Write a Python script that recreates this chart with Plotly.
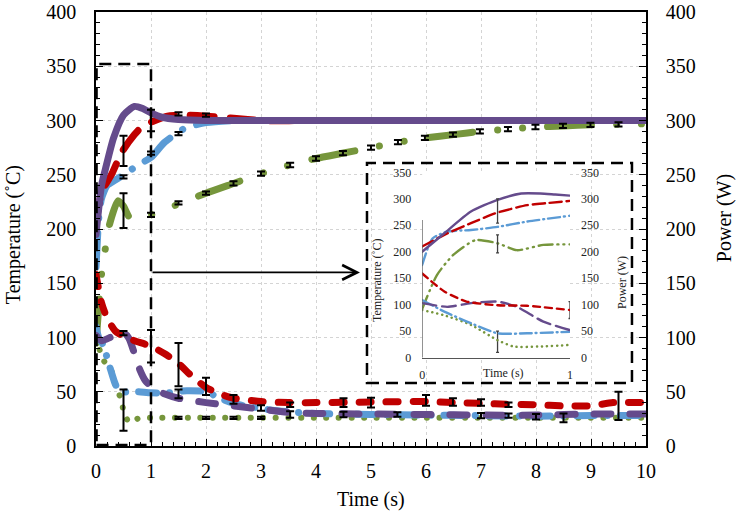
import plotly.graph_objects as go

# ---------------- main plot data (0-10 s) ----------------
# Temperatures (°C)
t_purple_T = [0, 0.1, 0.17, 0.32, 0.5, 0.7, 0.85, 1.0, 1.2, 1.5, 2, 3, 4, 5, 6, 7, 8, 9, 10]
v_purple_T = [195, 240, 255, 284, 305, 313, 311, 307, 303, 301, 300, 300, 300, 300, 300, 300, 300, 300, 300]
t_red_T = [0, 0.1, 0.29, 0.47, 0.7, 0.85, 1.03, 1.3, 1.6, 2.0, 2.5, 3, 4, 5, 6, 7, 8, 9, 10]
v_red_T = [205, 234, 251, 271, 287, 295, 299, 304, 305, 304, 302, 300, 300, 300, 300, 300, 300, 300, 300]
t_blue_T = [0, 0.05, 0.1, 0.2, 0.35, 0.56, 0.8, 1.0, 1.25, 1.62, 2.0, 2.5, 3, 4, 5, 6, 7, 8, 9, 10]
v_blue_T = [165, 210, 228, 240, 245, 252, 260, 266, 280, 293, 298, 300, 300, 300, 300, 300, 300, 300, 300, 300]
t_green_T = [0, 0.1, 0.17, 0.25, 0.4, 0.5, 0.62, 0.8, 1.0, 1.5, 2.0, 2.5, 3.0, 3.53, 4.0, 4.5, 5.0, 5.5,
             6.0, 6.5, 7.0, 7.5, 8.0, 8.5, 9.0, 9.5, 10]
v_green_T = [95, 158, 182, 205, 226, 221, 210, 211, 213, 223, 233, 242, 251, 259, 265, 270, 275, 280,
             284, 287, 290, 292, 294, 295, 296, 296.5, 297]

# Powers (W)
t_red_P = [0, 0.1, 0.2, 0.35, 0.5, 0.7, 1.0, 1.25, 1.5, 1.75, 2.0, 2.25, 2.5, 3.0, 3.5, 4, 5, 6, 6.5,
           7, 7.5, 8, 8.5, 9, 9.4, 10]
v_red_P = [158, 132, 118, 106, 101, 97, 92, 85, 76, 64, 54, 48, 44, 41, 40, 40, 40.5, 41, 40,
           39.3, 38.5, 38, 37, 37, 40, 40]
t_purple_P = [0, 0.1, 0.3, 0.5, 0.6, 0.7, 0.8, 0.9, 1.0, 1.2, 1.5, 2.0, 2.5, 3.0, 3.5, 4, 5, 6, 7, 8, 9, 10]
v_purple_P = [102, 97, 101, 105, 99, 85, 70, 60, 55, 49, 44, 40, 37, 34, 31, 30, 29.5, 29, 28.5, 28.5, 29.5, 29.5]
t_blue_P = [0, 0.05, 0.13, 0.25, 0.33, 0.4, 0.5, 0.75, 1.0, 1.3, 1.65, 2.0, 2.3, 2.6, 2.85, 3.2, 3.65,
            4, 5, 6, 7, 8, 9, 10]
v_blue_P = [110, 100, 93, 73, 60, 52, 50, 50, 49, 49, 51, 50, 43, 38, 36, 33, 31,
            30, 29, 28.5, 28, 27.5, 28, 28]
t_green_P = [0, 0.07, 0.16, 0.3, 0.35, 0.45, 0.5, 0.6, 0.8, 1.0, 2, 3, 4, 5, 6, 7, 8, 9, 10]
v_green_P = [100, 88, 77, 67, 56, 44, 33, 22, 26, 26, 26, 26, 26, 26, 26, 26, 26, 26, 26]

# Error bars (centre, half-width)
eT_x = [0.5, 0.5, 0.5, 1.0, 1.0, 1.0, 1.5, 1.5, 1.5, 2.0, 2.0, 2.5, 3.0, 3.53, 4.0, 4.49, 5.0, 5.49,
        5.98, 6.49, 6.98, 7.49, 7.99, 8.49, 8.99, 9.5]
eT_y = [272, 248, 217, 300, 270, 213, 306, 288, 224, 305, 233, 242, 251, 259, 265, 270, 275, 280,
        284, 287, 290, 292, 294, 295, 296, 296.5]
eT_e = [14, 1.5, 16, 10, 1.5, 2, 1.5, 1.5, 1.5, 1.5, 1.5, 2, 2, 2, 2, 2, 2, 2,
        2, 2, 2, 2, 2, 2, 2, 2]
eP_x = [0.5, 0.5, 1.0, 1.5, 1.5, 1.5, 2.0, 2.0, 2.5, 2.5, 3.0, 3.0, 3.53, 3.53, 4.5, 4.5, 5.0, 5.48,
        6.0, 6.49, 7.0, 7.0, 7.5, 7.5, 8.0, 8.5, 9.5]
eP_y = [104, 33, 92, 75, 48, 26, 55, 26, 43, 26, 35, 26, 38, 29, 40, 29, 40, 29,
        42, 40.5, 40, 28, 38, 28, 27, 26, 37]
eP_e = [2, 19, 15, 20, 4, 1, 8, 1, 4, 1, 2.5, 1, 2, 3, 4, 2.5, 4.5, 2,
        5, 3.5, 3, 2.5, 2, 2, 2.5, 4, 13]

# ---------------- inset data (0-1 s) ----------------
it_purple_T = [0, 0.15, 0.33, 0.51, 0.67, 0.8, 0.9, 1.0]
iv_purple_T = [200, 235, 276, 298, 310, 310, 308, 306]
it_red_T = [0, 0.15, 0.33, 0.51, 0.71, 0.85, 1.0]
iv_red_T = [210, 232, 254, 274, 288, 292, 296]
it_blue_T = [0, 0.07, 0.17, 0.33, 0.51, 0.71, 1.0]
iv_blue_T = [175, 225, 238, 241, 247, 257, 268]
it_green_T = [0, 0.1, 0.21, 0.36, 0.51, 0.64, 0.82, 1.0]
iv_green_T = [92, 156, 194, 222, 216, 203, 213, 214]
it_red_P = [0, 0.15, 0.3, 0.51, 0.71, 1.0]
iv_red_P = [159, 125, 106, 99, 98, 90]
it_purple_P = [0, 0.17, 0.33, 0.51, 0.64, 0.82, 1.0]
iv_purple_P = [103, 96, 103, 106, 96, 68, 52]
it_blue_P = [0, 0.15, 0.33, 0.51, 0.71, 1.0]
iv_blue_P = [109, 87, 65, 46, 46, 49]
it_green_P = [0, 0.15, 0.33, 0.51, 0.62, 0.78, 1.0]
iv_green_P = [90, 80, 62, 33, 21, 21, 24]
ie_x = [0.51, 0.51, 0.51, 1.0]
ie_y = [277, 215, 30, 90]
ie_e = [23, 17, 20, 16]

x_ticks = list(range(0, 11))
y_ticks = list(range(0, 401, 50))
iy_ticks = list(range(0, 351, 50))

RED = "#C00000"
BLUE = "#5B9BD5"
GREEN = "#76963C"
PURPLE = "#654B8C"
FONT = "Liberation Serif"

fig = go.Figure()

def add(t, v, color, width, dash, xa="x", ya="y"):
    fig.add_trace(go.Scatter(x=t, y=v, mode="lines", xaxis=xa, yaxis=ya,
                             line=dict(color=color, width=width, dash=dash, shape="spline", smoothing=0.6),
                             showlegend=False, hoverinfo="skip"))

# main power (right axis)
add(t_green_P, v_green_P, GREEN, 6, "0.1px,12.5px", "x", "y2")
add(t_blue_P, v_blue_P, BLUE, 7, "18px,13px,0.1px,13px", "x", "y2")
add(t_purple_P, v_purple_P, PURPLE, 7, "17px,19px", "x", "y2")
add(t_red_P, v_red_P, RED, 7, "12px,15px", "x", "y2")
# main temperature (left axis)
add(t_green_T, v_green_T, GREEN, 7, "44px,25px,0.1px,25px,0.1px,25px")
add(t_blue_T, v_blue_T, BLUE, 7, "34px,15px,0.1px,15px")
add(t_red_T, v_red_T, RED, 7, "24px,16px")
add(t_purple_T, v_purple_T, PURPLE, 7, "solid")

for ex, ey, ee, ya in [(eT_x, eT_y, eT_e, "y"), (eP_x, eP_y, eP_e, "y2")]:
    fig.add_trace(go.Scatter(x=ex, y=ey, mode="markers", yaxis=ya, marker=dict(size=1, opacity=0),
                             error_y=dict(type="data", array=ee, visible=True, color="black",
                                          thickness=2, width=4),
                             showlegend=False, hoverinfo="skip"))

# inset
add(it_green_P, iv_green_P, GREEN, 2.5, "0.1px,5px", "x2", "y4")
add(it_blue_P, iv_blue_P, BLUE, 2.4, "12px,4px,1px,4px", "x2", "y4")
add(it_purple_P, iv_purple_P, PURPLE, 2.4, "14px,6px", "x2", "y4")
add(it_red_P, iv_red_P, RED, 2.4, "7px,5px", "x2", "y4")
add(it_green_T, iv_green_T, GREEN, 2.4, "14px,5px,1px,5px,1px,5px", "x2", "y3")
add(it_blue_T, iv_blue_T, BLUE, 2.4, "12px,4px,1px,4px", "x2", "y3")
add(it_red_T, iv_red_T, RED, 2.4, "12px,5px", "x2", "y3")
add(it_purple_T, iv_purple_T, PURPLE, 2.4, "solid", "x2", "y3")
fig.add_trace(go.Scatter(x=ie_x, y=ie_y, mode="markers", xaxis="x2", yaxis="y3",
                         marker=dict(size=1, opacity=0),
                         error_y=dict(type="data", array=ie_e, visible=True, color="#404040",
                                      thickness=1.3, width=1.5),
                         showlegend=False, hoverinfo="skip"))

tickfont = dict(family=FONT, size=20, color="black")
common_y = dict(range=[0, 400], tickvals=y_ticks, ticks="inside", ticklen=7, tickwidth=1.2,
                tickcolor="black", minor=dict(dtick=10, ticks="inside", ticklen=4, tickcolor="black"),
                showline=True, linecolor="black", linewidth=1.5, tickfont=tickfont,
                ticklabelstandoff=14, zeroline=False, automargin=False)

ifont = dict(family=FONT, size=12, color="#222222")
fig.update_layout(
    width=736, height=514,
    margin=dict(l=96, r=90, t=12, b=68, autoexpand=False),
    paper_bgcolor="white", plot_bgcolor="white",
    xaxis=dict(range=[0, 10], tickvals=x_ticks, ticks="inside", ticklen=7, tickwidth=1.2, tickcolor="black",
               minor=dict(dtick=0.2, ticks="inside", ticklen=4, tickcolor="black"),
               showline=True, mirror=True, linecolor="black", linewidth=1.5,
               showgrid=True, gridcolor="#d4d4d4", griddash="dot", gridwidth=1,
               tickfont=tickfont, ticklabelstandoff=6, zeroline=False, automargin=False),
    yaxis=dict(**common_y, showgrid=True, gridcolor="#d4d4d4", griddash="dot", gridwidth=1),
    yaxis2=dict(**common_y, overlaying="y", side="right", showgrid=False),
    xaxis2=dict(domain=[0.593, 0.8618], anchor="y3", range=[0, 1], tickvals=[0, 1],
                showline=True, linecolor="#555555", linewidth=1.2, showgrid=False, zeroline=False,
                ticks="", tickfont=ifont, ticklabelstandoff=6, automargin=False),
    yaxis3=dict(domain=[0.2035, 0.6306], anchor="x2", range=[0, 350], tickvals=iy_ticks,
                showline=False, showgrid=False, zeroline=False, ticks="", tickfont=ifont,
                ticklabelstandoff=10, automargin=False),
    yaxis4=dict(domain=[0.2035, 0.6306], anchor="x2", overlaying="y3", side="right", range=[0, 350],
                tickvals=iy_ticks, showline=False, showgrid=False, zeroline=False, ticks="",
                tickfont=ifont, ticklabelstandoff=10, automargin=False),
)

# dashed boxes and inset axis line
fig.add_shape(type="rect", xref="x", yref="y", x0=0.01, x1=1.0, y0=1, y1=352,
              line=dict(color="black", width=2.5, dash="12px,7px"))
fig.add_shape(type="rect", xref="paper", yref="paper", x0=0.4927, x1=0.9745, y0=0.145, y1=0.652,
              line=dict(color="black", width=2.5, dash="12px,7px"))
fig.add_shape(type="line", xref="x2", yref="y3", x0=0, x1=0, y0=0, y1=260,
              line=dict(color="#555555", width=1.2))

annos = [
    dict(text="Temperature (˚C)", x=-0.151, y=0.488, textangle=-90, font=dict(family=FONT, size=20, color="black")),
    dict(text="Power (W)", x=1.1418, y=0.525, textangle=-90, font=dict(family=FONT, size=20, color="black")),
    dict(text="Time (s)", x=0.5, y=-0.124, font=dict(family=FONT, size=20, color="black")),
    dict(text="Temperature (˚C)", x=0.5109, y=0.3825, textangle=-90, font=ifont),
    dict(text="Power (W)", x=0.9564, y=0.3756, textangle=-90, font=ifont),
    dict(text="Time (s)", x=0.74, y=0.168, font=ifont),
]
for a in annos:
    fig.add_annotation(xref="paper", yref="paper", showarrow=False, xanchor="center", yanchor="middle", **a)

fig.add_annotation(x=4.8, y=160, ax=1.0, ay=160, xref="x", yref="y", axref="x", ayref="y",
                   showarrow=True, arrowhead=5, arrowsize=1.6, arrowwidth=1.8, arrowcolor="black", text="")

post = """
document.body.style.margin = '0';
var gd = document.getElementById('{plot_id}');
function rc(){ gd.querySelectorAll('.scatterlayer .js-line').forEach(function(p){ p.style.strokeLinecap='round'; }); }
rc(); gd.on('plotly_afterplot', rc);
"""
fig.write_html("out.html", post_script=post, config={"displayModeBar": False})
